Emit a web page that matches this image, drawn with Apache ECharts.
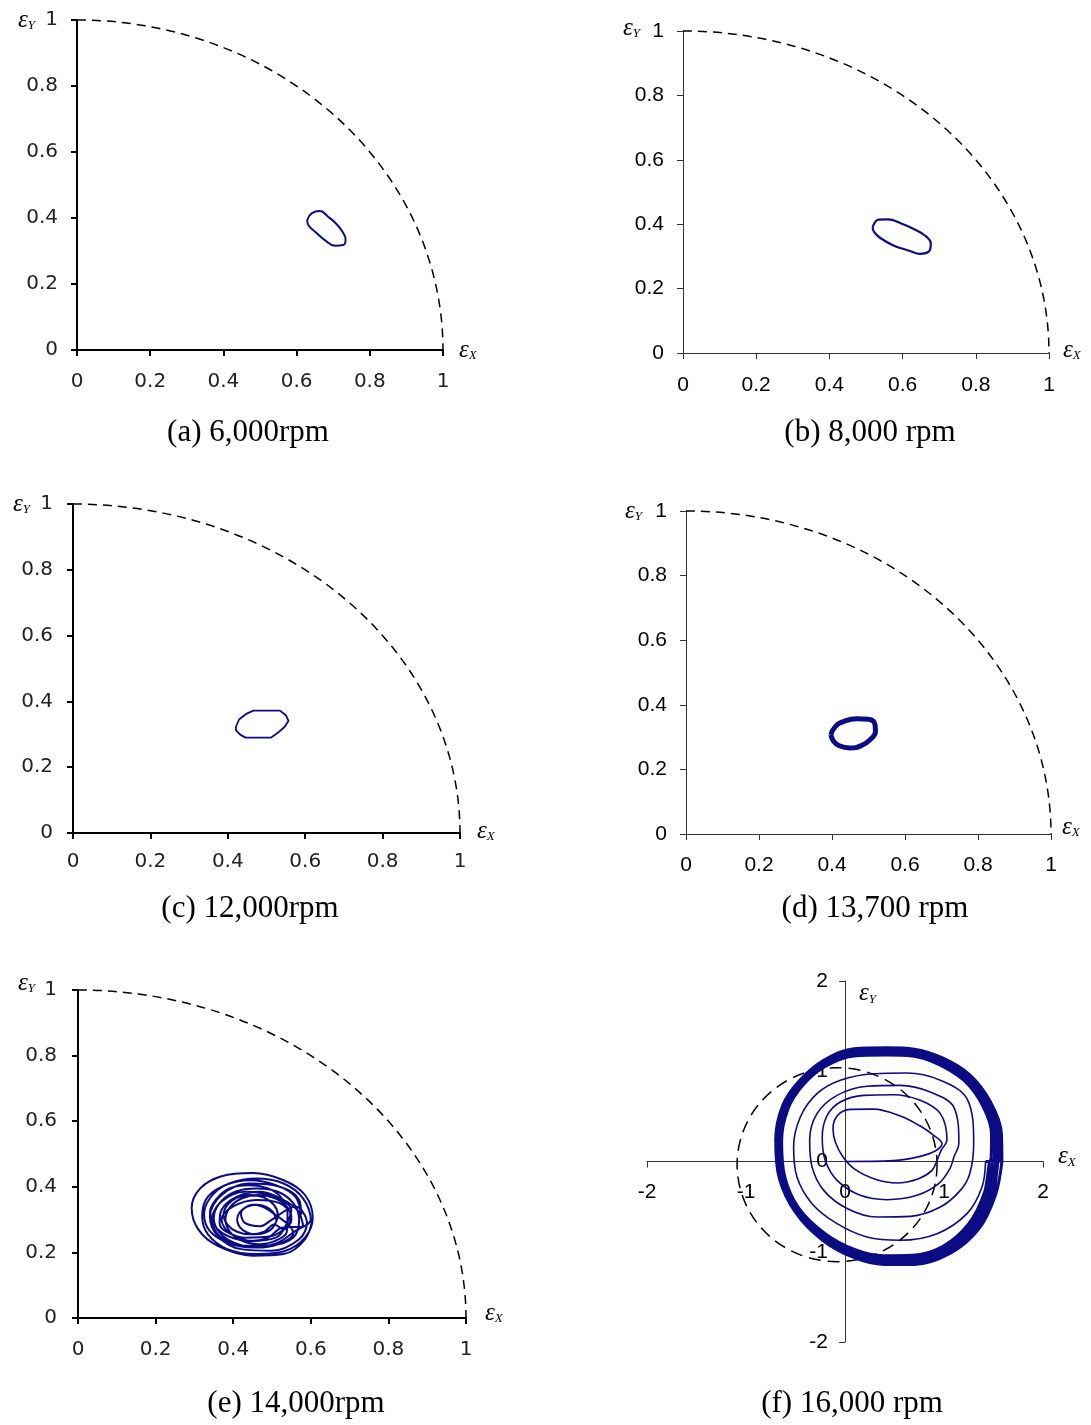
<!DOCTYPE html>
<html>
<head>
<meta charset="utf-8">
<script src="https://cdn.jsdelivr.net/npm/echarts@6/dist/echarts.min.js"></script>
<style>
  html, body { margin: 0; padding: 0; background: #fff; }
  #chart { width: 1091px; height: 1425px; }
</style>
</head>
<body>
<div id="chart"></div>
<script>
// ---- tick values -------------------------------------------------------
const quarterTicks = [0, 0.2, 0.4, 0.6, 0.8, 1];
const fullTicks = [-2, -1, 0, 1, 2];
const fullEndTicks = [-2, 2];

// ---- panel captions ----------------------------------------------------
const captions = ['(a) 6,000rpm', '(b) 8,000 rpm', '(c) 12,000rpm',
                  '(d) 13,700 rpm', '(e) 14,000rpm', '(f) 16,000 rpm'];

// ---- bearing clearance circle ------------------------------------------
const clearanceRadius = 1;
const clearanceCenterF = [-0.08, -0.035];
const clearanceRadiiF = [1.01, 1.075];

// ---- journal centre orbits (εX, εY) ------------------------------------
const orbitA = [[0.629,0.394],[0.641,0.414],[0.664,0.421],[0.686,0.404],[0.709,0.382],
  [0.725,0.359],[0.734,0.335],[0.727,0.318],[0.705,0.316],[0.677,0.333],[0.650,0.359],
  [0.632,0.379],[0.629,0.394]];

const orbitB = [[0.518,0.391],[0.534,0.414],[0.561,0.415],[0.593,0.404],[0.629,0.386],
  [0.661,0.365],[0.677,0.340],[0.673,0.317],[0.647,0.308],[0.620,0.317],[0.575,0.334],
  [0.538,0.358],[0.522,0.376],[0.518,0.391]];

const orbitC = [[0.421,0.323],[0.429,0.345],[0.449,0.363],[0.466,0.372],[0.535,0.372],
  [0.550,0.358],[0.557,0.341],[0.547,0.323],[0.531,0.306],[0.512,0.290],[0.446,0.290],
  [0.432,0.299],[0.421,0.313],[0.421,0.323]];

const orbitD = [[0.397,0.307],[0.408,0.331],[0.431,0.348],[0.468,0.357],[0.500,0.355],
  [0.518,0.338],[0.519,0.317],[0.506,0.294],[0.481,0.274],[0.449,0.266],[0.420,0.273],
  [0.404,0.288],[0.397,0.307]];

const orbitE1 = [[0.51,0.30],[0.503,0.323],[0.485,0.339],[0.46,0.345],[0.435,0.339],[0.417,0.323],
  [0.41,0.30],[0.417,0.277],[0.435,0.261],[0.46,0.255],[0.485,0.261],[0.503,0.277]];
const orbitE2 = [[0.515,0.315],[0.505,0.345],[0.48,0.367],[0.445,0.375],[0.41,0.367],[0.385,0.345],
  [0.375,0.315],[0.385,0.285],[0.41,0.263],[0.445,0.255],[0.48,0.263],[0.505,0.285]];
const orbitE3 = [[0.55,0.33],[0.52,0.365],[0.47,0.385],[0.41,0.37],[0.37,0.33],[0.365,0.29],
  [0.38,0.265],[0.43,0.245],[0.50,0.25],[0.545,0.285]];
const orbitE4 = [[0.55,0.30],[0.538,0.34],[0.508,0.365],[0.465,0.375],[0.423,0.365],[0.392,0.338],
  [0.38,0.30],[0.392,0.262],[0.423,0.235],[0.465,0.225],[0.508,0.235],[0.538,0.262]];
const orbitE5 = [[0.54,0.32],[0.525,0.365],[0.49,0.395],[0.44,0.405],[0.39,0.395],[0.355,0.36],
  [0.34,0.32],[0.355,0.277],[0.39,0.248],[0.44,0.235],[0.49,0.245],[0.525,0.275]];
const orbitE6 = [[0.58,0.28],[0.565,0.33],[0.51,0.37],[0.43,0.385],[0.37,0.355],[0.345,0.30],
  [0.365,0.25],[0.43,0.22],[0.50,0.222],[0.555,0.245]];
const orbitE7 = [[0.57,0.30],[0.555,0.35],[0.515,0.385],[0.46,0.395],[0.405,0.385],[0.365,0.35],
  [0.35,0.305],[0.365,0.26],[0.405,0.228],[0.46,0.215],[0.515,0.225],[0.555,0.258]];
const orbitE8 = [[0.575,0.315],[0.56,0.37],[0.51,0.405],[0.445,0.42],[0.38,0.405],[0.34,0.365],
  [0.325,0.315],[0.34,0.265],[0.385,0.23],[0.45,0.215],[0.515,0.23],[0.56,0.265]];
const orbitE9 = [[0.60,0.30],[0.58,0.365],[0.53,0.41],[0.46,0.425],[0.39,0.41],[0.335,0.37],
  [0.32,0.31],[0.335,0.255],[0.385,0.21],[0.46,0.195],[0.535,0.205],[0.585,0.245]];
const orbitE10 = [[0.605,0.305],[0.585,0.375],[0.53,0.42],[0.45,0.442],[0.37,0.432],[0.315,0.395],
  [0.293,0.335],[0.31,0.27],[0.36,0.22],[0.45,0.19],[0.53,0.195],[0.585,0.24],[0.605,0.305]];
const orbitE11 = [[0.53,0.27],[0.55,0.31],[0.52,0.35],[0.46,0.36],[0.40,0.34],[0.37,0.30],
  [0.39,0.26],[0.45,0.235],[0.51,0.245],[0.53,0.27]];
const orbitE12 = [[0.49,0.33],[0.45,0.345],[0.42,0.32],[0.43,0.29],[0.47,0.28],[0.50,0.30],
  [0.56,0.34],[0.59,0.29],[0.57,0.24],[0.50,0.205],[0.42,0.21],[0.36,0.25],[0.34,0.31],
  [0.37,0.375],[0.44,0.41],[0.52,0.40],[0.57,0.36]];

// 16,000 rpm: spiral growing out of the bearing centre
const orbitF1 = [[0,0],[0.49,0.01],[0.76,0.057],[0.91,0.116],[0.98,0.198],[0.896,0.29],[0.76,0.393],
  [0.56,0.504],[0.29,0.58],[0.054,0.578],[-0.074,0.512],[-0.121,0.364],[-0.098,0.216],[-0.02,0.05],
  [0.104,-0.09],[0.29,-0.19],[0.525,-0.238],[0.744,-0.19],[0.879,-0.098],[0.93,0.013],[0.97,0.12]];
const orbitF2 = [[1.03,0.24],[0.963,0.53],[0.76,0.678],[0.49,0.74],[0.19,0.733],[-0.047,0.66],
  [-0.18,0.51],[-0.23,0.27],[-0.2,0.013],[-0.08,-0.209],[0.155,-0.375],[0.424,-0.423],[0.727,-0.375],
  [0.946,-0.246],[1.06,-0.08],[1.10,0.05]];
const orbitF3 = [[1.15,0.20],[1.10,0.60],[0.862,0.77],[0.56,0.844],[0.222,0.833],
  [-0.08,0.733],[-0.283,0.53],[-0.357,0.235],[-0.333,-0.06],[-0.215,-0.32],[0.02,-0.52],[0.323,-0.615],
  [0.66,-0.608],[0.963,-0.505],[1.165,-0.32],[1.26,-0.135]];
const orbitF4 = [[1.30,0.20],[1.232,0.696],[0.963,0.9],[0.626,0.98],[0.29,0.973],
  [-0.047,0.9],[-0.283,0.752],[-0.451,0.493],[-0.519,0.16],[-0.485,-0.172],[-0.333,-0.467],
  [-0.08,-0.689],[0.222,-0.837],[0.559,-0.873],[0.93,-0.8],[1.232,-0.578],[1.384,-0.283],[1.42,0.0]];
const orbitF5 = [[1.475,0.02],[1.48,0.30],[1.39,0.62],[1.20,0.90],[0.94,1.08],[0.68,1.17],[0.42,1.18],
  [0.09,1.17],[-0.205,1.05],[-0.43,0.84],[-0.575,0.585],[-0.64,0.23],[-0.61,-0.165],[-0.465,-0.52],
  [-0.20,-0.80],[0.095,-0.975],[0.39,-1.045],[0.68,-1.04],[0.99,-0.94],[1.25,-0.69],[1.41,-0.34],[1.475,0.02]];
const orbitF6 = [[1.505,0.015],[1.51,0.305],[1.41,0.63],[1.215,0.92],[0.95,1.10],[0.687,1.19],[0.422,1.20],
  [0.089,1.19],[-0.21,1.067],[-0.44,0.851],[-0.59,0.595],[-0.655,0.233],[-0.623,-0.168],[-0.475,-0.531],
  [-0.207,-0.818],[0.091,-0.998],[0.39,-1.07],[0.687,-1.067],[1.01,-0.962],[1.275,-0.708],[1.44,-0.348],[1.505,0.015]];
const orbitF7 = [[1.535,0.013],[1.535,0.308],[1.434,0.64],[1.232,0.936],[0.963,1.12],[0.694,1.213],
  [0.424,1.224],[0.088,1.213],[-0.215,1.084],[-0.451,0.862],[-0.603,0.604],[-0.67,0.235],[-0.636,-0.172],
  [-0.485,-0.542],[-0.215,-0.837],[0.088,-1.021],[0.39,-1.095],[0.694,-1.095],[1.03,-0.985],[1.30,-0.726],
  [1.468,-0.357],[1.535,0.013]];
const orbitF8 = [[1.56,0.005],[1.56,0.31],[1.455,0.65],[1.25,0.95],[0.975,1.135],[0.70,1.23],[0.43,1.24],
  [0.088,1.23],[-0.218,1.102],[-0.46,0.873],[-0.617,0.612],[-0.685,0.237],[-0.65,-0.176],[-0.493,-0.553],
  [-0.222,-0.853],[0.085,-1.04],[0.39,-1.12],[0.70,-1.12],[1.045,-1.005],[1.325,-0.74],[1.495,-0.365],[1.56,0.005]];
const orbitF9 = [[1.585,0.0],[1.58,0.31],[1.47,0.66],[1.26,0.96],[0.98,1.15],[0.70,1.245],[0.43,1.26],
  [0.09,1.25],[-0.22,1.12],[-0.47,0.885],[-0.63,0.62],[-0.70,0.24],[-0.665,-0.18],[-0.50,-0.565],
  [-0.23,-0.87],[0.08,-1.06],[0.39,-1.14],[0.70,-1.14],[1.06,-1.02],[1.35,-0.75],[1.52,-0.37],[1.585,0.0]];

// ---- assembled orbits ---------------------------------------------------
const orbitE = [].concat(orbitE1, orbitE2, orbitE11, orbitE3, orbitE4, orbitE5, orbitE6,
                         orbitE7, orbitE12, orbitE8, orbitE9, orbitE10);
const orbitFTransient = [].concat(orbitF1, orbitF2, orbitF3, orbitF4);
const orbitFLimit = [].concat(orbitF4.slice(-1), orbitF5, orbitF6, orbitF7, orbitF8, orbitF9);

const NAVY = '#0b0b84';

// ---- layout of the six panels ------------------------------------------
const panels = [
  { grid: { left: 77, top: 20, width: 366, height: 330 }, look: 'pixel', caption: [248, 433],
    xm: 22, ym: 19, xNameGap: 16, xNameLift: 0, yNamePad: 42, yNameGap: 0 },
  { grid: { left: 683, top: 31, width: 366, height: 322 }, look: 'clean', caption: [870, 433],
    xm: 22, ym: 19, xNameGap: 14, xNameLift: 6, yNamePad: 43, yNameGap: 3 },
  { grid: { left: 73, top: 504, width: 387, height: 329 }, look: 'pixel', caption: [250, 909],
    xm: 19, ym: 20, xNameGap: 17, xNameLift: 4, yNamePad: 43, yNameGap: 0 },
  { grid: { left: 686, top: 511, width: 365, height: 323 }, look: 'clean', caption: [875, 909],
    xm: 21, ym: 19, xNameGap: 11, xNameLift: 14, yNamePad: 44, yNameGap: 0 },
  { grid: { left: 78, top: 990, width: 388, height: 328 }, look: 'pixel', caption: [296, 1404],
    xm: 22, ym: 21, xNameGap: 19, xNameLift: 10, yNamePad: 43, yNameGap: 7 },
  { grid: { left: 647, top: 981, width: 396, height: 361 }, look: 'clean', caption: [852, 1404],
    xm: 20, ym: 17 }
];

const looks = {
  pixel: { line: '#000', lineWidth: 2, tickWidth: 2, font: 'DejaVu Sans', size: 20, color: '#222' },
  clean: { line: '#333', lineWidth: 1, tickWidth: 1, font: 'Liberation Sans', size: 21, color: '#000' }
};

const nameRich = {
  e: { fontFamily: 'Liberation Serif', fontStyle: 'italic', fontSize: 25, color: '#000', verticalAlign: 'bottom' },
  s: { fontFamily: 'Liberation Serif', fontStyle: 'italic', fontSize: 13, color: '#000', verticalAlign: 'bottom' }
};
const epsName = sub => '{e|ε}{s|' + sub + '}';

// ---- clearance circle drawn through the axis scales ---------------------
function quarterArc(params, api) {
  const o = api.coord([0, 0]);
  const ex = api.coord([clearanceRadius, 0]);
  const ey = api.coord([0, clearanceRadius]);
  const rx = ex[0] - o[0];
  const ry = o[1] - ey[1];
  return {
    type: 'path',
    shape: { pathData: `M${ey[0]} ${ey[1]} A${rx} ${ry} 0 0 1 ${ex[0]} ${ex[1]}` },
    style: { fill: 'none', stroke: '#000', lineWidth: 1.5, lineDash: [9, 6] }
  };
}
function fullClearance(params, api) {
  const c = api.coord(clearanceCenterF);
  const r = api.coord([clearanceCenterF[0] + clearanceRadiiF[0], clearanceCenterF[1]]);
  const l = api.coord([clearanceCenterF[0] - clearanceRadiiF[0], clearanceCenterF[1]]);
  const t = api.coord([clearanceCenterF[0], clearanceCenterF[1] + clearanceRadiiF[1]]);
  const rx = r[0] - c[0];
  const ry = c[1] - t[1];
  return {
    type: 'path',
    shape: { pathData: `M${r[0]} ${r[1]} A${rx} ${ry} 0 1 1 ${l[0]} ${l[1]} A${rx} ${ry} 0 1 1 ${r[0]} ${r[1]}` },
    style: { fill: 'none', stroke: '#000', lineWidth: 1.5, lineDash: [12, 7] }
  };
}

// ---- build axes ----------------------------------------------------------
const grids = [], xAxes = [], yAxes = [], series = [], graphics = [];

panels.forEach((p, i) => {
  const lk = looks[p.look];
  grids.push(Object.assign({ containLabel: false, outerBoundsMode: 'none' }, p.grid));
  const full = i === 5;
  const ticks = full ? fullTicks : quarterTicks;
  const lo = ticks[0], hi = ticks[ticks.length - 1], step = ticks[1] - ticks[0];
  const common = {
    type: 'value', gridIndex: i, min: lo, max: hi, interval: step,
    splitLine: { show: false },
    axisLine: { show: true, onZero: false, lineStyle: { color: lk.line, width: lk.lineWidth } },
    axisTick: Object.assign({ show: true, inside: false, length: 6,
      lineStyle: { color: lk.line, width: lk.tickWidth } }, full ? { customValues: fullEndTicks } : {}),
    nameMoveOverlap: false
  };
  const label = m => ({ show: true, margin: m, fontFamily: lk.font, fontSize: lk.size, color: lk.color });

  // the ±2 panel has its axes crossing in the middle of the plot
  xAxes.push(Object.assign({}, common, {
    position: 'bottom',
    offset: full ? -p.grid.height / 2 : 0,
    axisLabel: label(p.xm),
    name: epsName('X'),
    nameLocation: 'end',
    nameGap: full ? 15 : p.xNameGap,
    nameTextStyle: { rich: nameRich, align: 'left', verticalAlign: 'middle',
      padding: [0, 0, full ? 10 : p.xNameLift, 0] }
  }));
  yAxes.push(Object.assign({}, common, {
    position: 'left',
    offset: full ? -p.grid.width / 2 : 0,
    axisLabel: label(p.ym),
    name: epsName('Y'),
    nameLocation: 'end',
    nameGap: full ? 0 : p.yNameGap,
    nameTextStyle: full
      ? { rich: nameRich, align: 'left', verticalAlign: 'top', padding: [0, 0, 0, 14] }
      : { rich: nameRich, align: 'right', verticalAlign: 'middle', padding: [0, p.yNamePad, 0, 0] }
  }));

  series.push({
    type: 'custom', coordinateSystem: 'cartesian2d', xAxisIndex: i, yAxisIndex: i,
    data: [[0, 0]], renderItem: full ? fullClearance : quarterArc, silent: true, clip: false, z: 1
  });

  graphics.push({
    type: 'text', x: p.caption[0], y: p.caption[1],
    style: { text: captions[i], font: '31px "Liberation Serif"', fill: '#000',
      align: 'center', verticalAlign: 'middle', textAlign: 'center', textVerticalAlign: 'middle' }
  });
});

function orbitSeries(idx, data, width, smooth) {
  return {
    type: 'line', xAxisIndex: idx, yAxisIndex: idx, data: data,
    showSymbol: false, symbol: 'none', smooth: smooth, clip: false, z: 3,
    lineStyle: { color: NAVY, width: width }
  };
}
series.push(orbitSeries(0, orbitA, 2, 0.45));
series.push(orbitSeries(1, orbitB, 2.2, 0.4));
series.push(orbitSeries(2, orbitC, 1.8, false));
series.push(orbitSeries(3, orbitD, 5, 0.5));
series.push(orbitSeries(4, orbitE, 2, 0.35));
series.push(orbitSeries(5, orbitFTransient, 1.6, 0.35));
series.push(orbitSeries(5, orbitFLimit, 3, 0.35));

const chart = echarts.init(document.getElementById('chart'), null, { renderer: 'canvas' });
chart.setOption({
  animation: false,
  backgroundColor: '#fff',
  grid: grids,
  xAxis: xAxes,
  yAxis: yAxes,
  series: series,
  graphic: graphics
});
</script>
</body>
</html>
